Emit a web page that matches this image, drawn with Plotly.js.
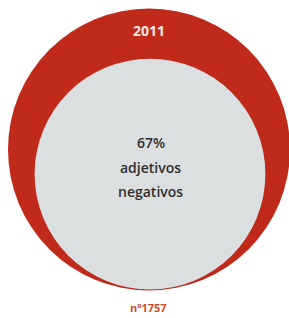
<!DOCTYPE html>
<html>
<head>
<meta charset="utf-8">
<script src="https://cdn.plot.ly/plotly-3.0.1.min.js"></script>
<style>html,body{margin:0;padding:0;background:#fff;}#chart{width:289px;height:318px;}</style>
</head>
<body>
<div id="chart"></div>
<script>
// Data
var years = ["2011"];
var shares = [100, 67];            // total (outer) and negative adjectives share (inner), %
var shareLabels = ["adjetivos", "negativos"];
var sampleLabels = ["nº1757"];

// Geometry (pixel-like units on fixed axes)
var cx = 149, bottom = 290.5, R = 141;
var rInner = R * Math.sqrt(shares[1] / shares[0]);
var innerCx = 150, innerBottom = 289.5;

var red = "#bf2a1b", grey = "#dcdfe0";
var txtFont = {family: "Open Sans, sans-serif", size: 14, color: "#2e2e2e", weight: 600};

var layout = {
  width: 289, height: 318,
  margin: {l: 0, r: 0, t: 0, b: 0},
  paper_bgcolor: "#ffffff", plot_bgcolor: "#ffffff",
  showlegend: false,
  xaxis: {range: [0, 289], visible: false, fixedrange: true},
  yaxis: {range: [318, 0], visible: false, fixedrange: true},
  shapes: [
    {type: "circle", xref: "x", yref: "y",
     x0: cx - R, x1: cx + R, y0: bottom - 2 * R, y1: bottom,
     fillcolor: red, line: {width: 0}},
    {type: "circle", xref: "x", yref: "y",
     x0: innerCx - rInner, x1: innerCx + rInner, y0: innerBottom - 2 * rInner, y1: innerBottom,
     fillcolor: grey, line: {width: 0}}
  ],
  annotations: [
    {x: 149, y: 30, xref: "x", yref: "y", text: "<b>" + years[0] + "</b>", showarrow: false,
     font: {family: "Open Sans, sans-serif", size: 14, color: "#fbe9e4"}},
    {x: 151, y: 142, xref: "x", yref: "y", text: shares[1] + "%",
     showarrow: false, font: txtFont},
    {x: 150, y: 167, xref: "x", yref: "y", text: shareLabels[0],
     showarrow: false, font: txtFont},
    {x: 150, y: 191, xref: "x", yref: "y", text: shareLabels[1],
     showarrow: false, font: txtFont},
    {x: 148, y: 307, xref: "x", yref: "y", text: "<b>" + sampleLabels[0] + "</b>", showarrow: false,
     font: {family: "Open Sans, sans-serif", size: 11, color: "#cf4a2a"}}
  ]
};

Plotly.newPlot("chart", [{x: [], y: [], type: "scatter"}], layout, {displayModeBar: false, staticPlot: true});
</script>
</body>
</html>
